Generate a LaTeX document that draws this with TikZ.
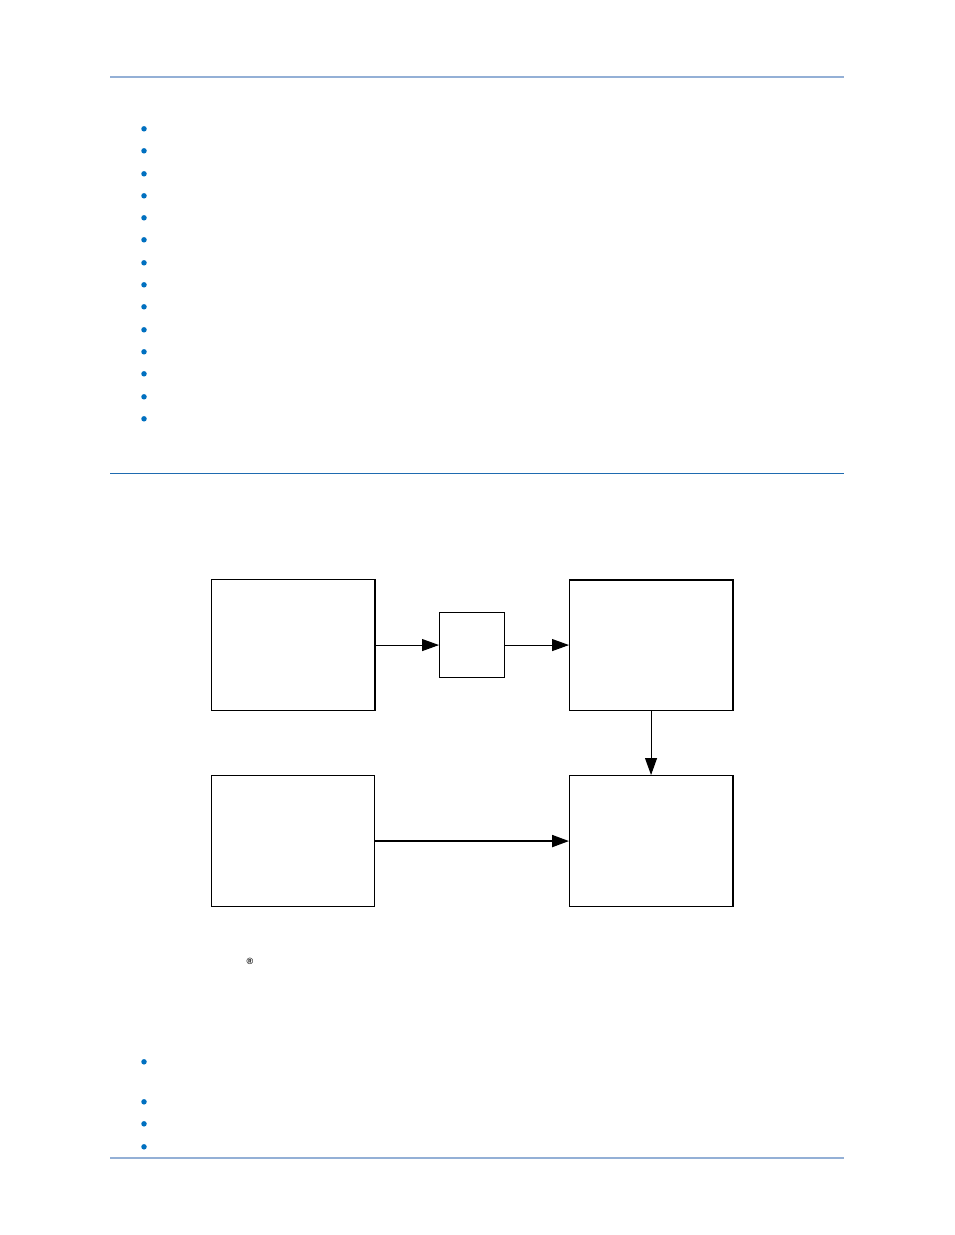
\documentclass[tikz,border=0pt]{standalone}
\usepackage{fontspec}
\setmainfont{Liberation Sans}
\usetikzlibrary{arrows.meta}
\definecolor{rulelight}{HTML}{94B0D6}
\definecolor{ruledark}{HTML}{1F6BB0}
\definecolor{bulletblue}{HTML}{0070C0}
\begin{document}
\begin{tikzpicture}[x=1pt,y=-1pt,
  blockbox/.style={draw=black,line width=1.1pt,fill=white,inner sep=0pt,anchor=north west},
  flow/.style={line width=1pt,-{Triangle[length=17pt,width=12pt]}},
  bulletdot/.style={circle,fill=bulletblue,inner sep=0pt,minimum size=5.5pt}]
\useasboundingbox[fill=white] (0,0) rectangle (954,1235);
% rules
\draw[rulelight,line width=2pt] (110,76.5) -- (844,76.5);
\draw[ruledark,line width=1pt] (110,473) -- (844,473);
\draw[rulelight,line width=2pt] (110,1158) -- (844,1158);
% bullets
\foreach \yy [count=\i] in {128,150,173,195,217,239,262,284,306,329,351,373,396,418}
  \node[bulletdot] (b\i) at (144,\yy+0.8) {};
\foreach \yy [count=\i] in {1061,1101,1123,1146}
  \node[bulletdot] (c\i) at (144,\yy+0.8) {};
% blocks
\node[blockbox,minimum width=163pt,minimum height=131pt] (A) at (211,579) {};
\node[blockbox,minimum width=65pt,minimum height=65pt] (B) at (439,612) {};
\node[blockbox,minimum width=163pt,minimum height=130pt] (C) at (569,580) {};
\node[blockbox,minimum width=163pt,minimum height=131pt] (D) at (211,775) {};
\node[blockbox,minimum width=163pt,minimum height=131pt] (E) at (569,775) {};
\draw[line width=2pt] ([xshift=-0.5pt]A.north east) -- ([xshift=-0.5pt]A.south east);
\draw[line width=2pt] (C.north west) -- ([xshift=-0.5pt]C.north east) -- ([xshift=-0.5pt]C.south east);
\draw[line width=2pt] ([xshift=-0.5pt]E.north east) -- ([xshift=-0.5pt]E.south east);
% connectors
\draw[flow] (A.east |- B.west) -- (B.west);
\draw[flow] (B.east) -- (B.east -| C.west);
\draw[flow] (C.south) -- (E.north);
\draw[flow,line width=2pt] (D.east) -- (E.west);
% registered mark
\node[font=\fontsize{9}{9}\selectfont\bfseries,inner sep=0pt] (reg) at (250,961) {®};
\end{tikzpicture}
\end{document}
